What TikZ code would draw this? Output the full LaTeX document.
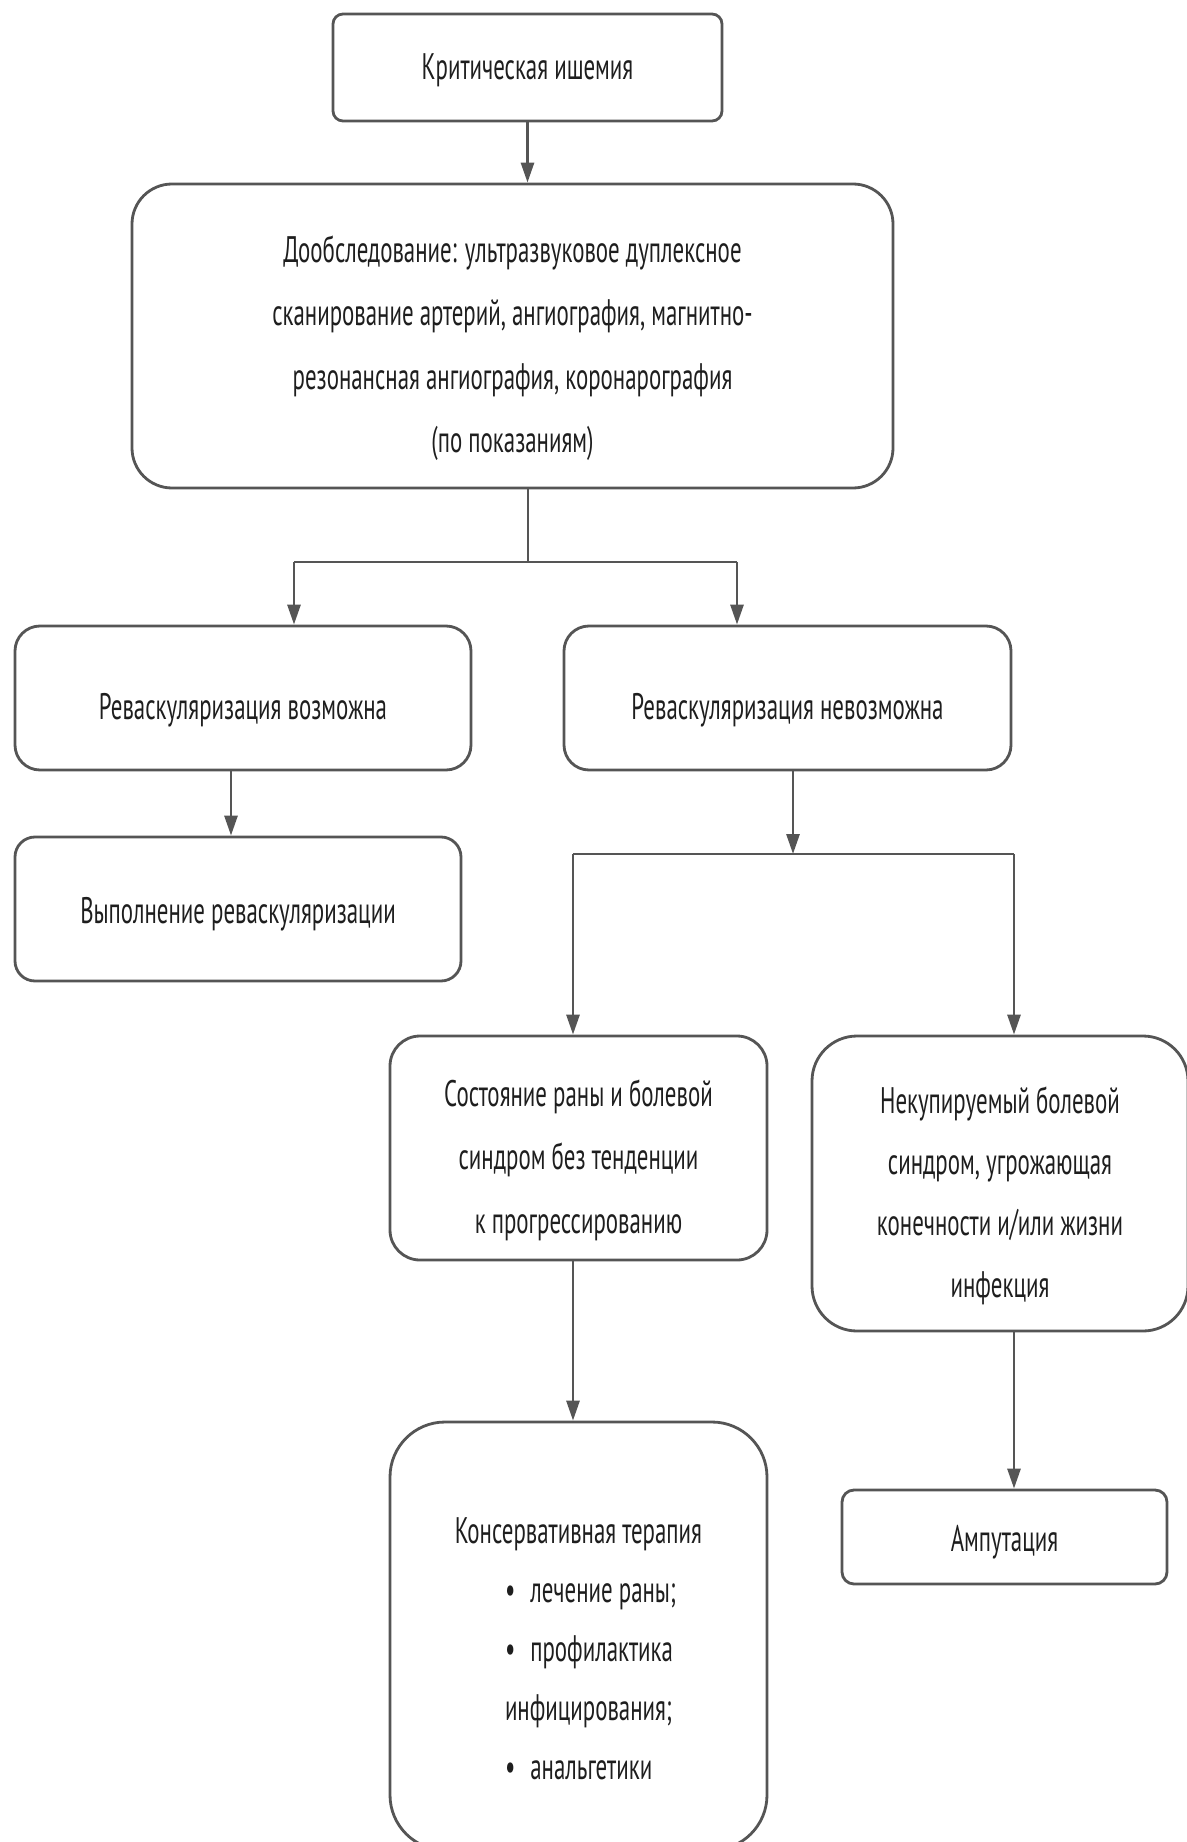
\documentclass[tikz,border=0pt]{standalone}
\usepackage{fontspec}
\setmainfont{PT Sans}[FakeStretch=0.62]
\usetikzlibrary{arrows.meta,positioning,calc}
\definecolor{linegray}{RGB}{85,85,85}
\definecolor{textgray}{RGB}{30,30,30}
\newcommand{\boxlift}[1]{\rule{0pt}{#1}}

\begin{document}
\begin{tikzpicture}[
    box/.style={rectangle, draw=linegray, line width=0.8pt, inner sep=0pt, align=center, text=textgray, font=\fontsize{10.5}{18}\selectfont},
    arr/.style={draw=linegray, line width=0.8pt, -{Triangle[length=2mm,width=1.3mm]}},
    link/.style={draw=linegray, line width=0.8pt}
]
    \useasboundingbox (0,0) rectangle (11.87,-18.42);

    % Start and examination
    \node[box, minimum width=3.89cm, minimum height=1.07cm, rounded corners=0.1cm] (crit) at (5.275,-0.675) {\boxlift{9pt}Критическая ишемия};
    \node[box, minimum width=7.61cm, minimum height=3.04cm, rounded corners=0.4cm] (exam) at (5.125,-3.36)
        {\boxlift{14.5pt}Дообследование: ультразвуковое дуплексное\\сканирование артерий, ангиография, магнитно-\\резонансная ангиография, коронарография\\(по показаниям)};

    % Revascularisation
    \node[box, minimum width=4.56cm, minimum height=1.44cm, rounded corners=0.25cm] (yes) at (2.43,-6.98) {\boxlift{14.5pt}Реваскуляризация возможна};
    \node[box, minimum width=4.47cm, minimum height=1.44cm, rounded corners=0.25cm] (no) at (7.875,-6.98) {\boxlift{14.5pt}Реваскуляризация невозможна};
    \node[box, minimum width=4.46cm, minimum height=1.44cm, rounded corners=0.2cm] (do) at (2.38,-9.09) {\boxlift{10.5pt}Выполнение реваскуляризации};

    % No revascularisation
    \node[box, minimum width=3.77cm, minimum height=2.24cm, rounded corners=0.3cm] (stable) at (5.785,-11.48)
        {\boxlift{14.5pt}Состояние раны и болевой\\синдром без тенденции\\к прогрессированию};
    \node[box, font=\fontsize{10.5}{17.4}\selectfont, minimum width=3.76cm, minimum height=2.95cm, rounded corners=0.45cm] (pain) at (10.0,-11.835)
        {\boxlift{14.5pt}Некупируемый болевой\\синдром, угрожающая\\конечности и/или жизни\\инфекция};

    % Outcomes
    \node[box, font=\fontsize{10.5}{16.8}\selectfont, minimum width=3.77cm, minimum height=4.28cm, rounded corners=0.55cm] (cons) at (5.785,-16.36)
        {\boxlift{14.5pt}Консервативная терапия\\
        \hspace*{0.18cm}\makebox[1.65cm][l]{•\hspace{1.5mm}лечение раны;}\\
        \hspace*{0.18cm}\makebox[1.65cm][l]{•\hspace{1.5mm}профилактика}\\
        \hspace*{0.18cm}\makebox[1.65cm][l]{инфицирования;}\\
        \hspace*{0.18cm}\makebox[1.65cm][l]{•\hspace{1.5mm}анальгетики}};
    \node[box, minimum width=3.25cm, minimum height=0.94cm, rounded corners=0.12cm] (amp) at (10.045,-15.37) {\boxlift{10.5pt}Ампутация};

    % Split points
    \coordinate (s1) at (5.28,-5.62);
    \coordinate (s1l) at (2.94,-5.62);
    \coordinate (s1r) at (7.37,-5.62);
    \coordinate (s2) at (7.93,-8.54);
    \coordinate (s2l) at (5.73,-8.54);
    \coordinate (s2r) at (10.14,-8.54);

    % Edges
    \draw[arr] (crit) -- (crit |- exam.north);
    \draw[link] (exam.south -| s1) -- (s1);
    \draw[link] (s1l) -- (s1r);
    \draw[arr] (s1l) -- (s1l |- yes.north);
    \draw[arr] (s1r) -- (s1r |- no.north);
    \draw[arr] ([xshift=-1.2mm]yes.south) -- ([xshift=-1.2mm]yes.south |- do.north);
    \draw[arr] (no.south -| s2) -- (s2);
    \draw[link] (s2l) -- (s2r);
    \draw[arr] (s2l) -- (s2l |- stable.north);
    \draw[arr] (s2r) -- (s2r |- pain.north);
    \draw[arr] ([xshift=-0.55mm]stable.south) -- ([xshift=-0.55mm]stable.south |- cons.north);
    \draw[arr] ([xshift=1.4mm]pain.south) -- ([xshift=1.4mm]pain.south |- amp.north);
\end{tikzpicture}
\end{document}
